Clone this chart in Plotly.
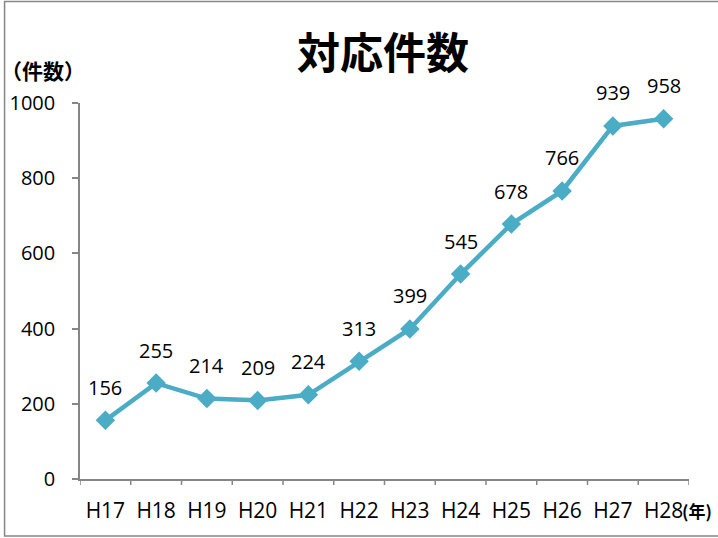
import plotly.graph_objects as go

years = ["H17", "H18", "H19", "H20", "H21", "H22", "H23", "H24", "H25", "H26", "H27", "H28"]
counts = [156, 255, 214, 209, 224, 313, 399, 545, 678, 766, 939, 958]
y_ticks = [0, 200, 400, 600, 800, 1000]

W, H = 718, 538
L, R, T, B = 80, 28.5, 103, 59
pw, ph = W - L - R, H - T - B

def px_x(x):
    return (x - L) / pw

def px_y(y):
    return (H - B - y) / ph

color = "#4BACC6"
fig = go.Figure()
fig.add_trace(go.Scatter(
    x=list(range(len(years))), y=counts, mode="lines+markers",
    line=dict(color=color, width=4.5),
    marker=dict(symbol="diamond", size=15, color=color),
    hoverinfo="skip", showlegend=False,
))

annotations = []
for i, v in enumerate(counts):
    annotations.append(dict(x=i, y=v, xref="x", yref="y", text=str(v), showarrow=False,
                            yshift=33, font=dict(size=20, color="#000000", family="Open Sans")))

annotations += [
    dict(x=px_x(383), y=px_y(50), xref="paper", yref="paper", text="<b>対応件数</b>", showarrow=False,
         font=dict(size=43, family="Noto Sans CJK JP", color="#000000"), xanchor="center", yanchor="middle"),
    dict(x=px_x(-1), y=px_y(70), xref="paper", yref="paper", text="<b>（件数）</b>", showarrow=False,
         font=dict(size=21, family="Noto Sans CJK JP", color="#000000"), xanchor="left", yanchor="middle"),
    dict(x=px_x(680), y=px_y(510), xref="paper", yref="paper", text="<b>(年)</b>", showarrow=False,
         font=dict(size=17, family="Noto Sans CJK JP", color="#000000"), xanchor="left", yanchor="middle"),
]

fig.update_layout(
    width=W, height=H,
    margin=dict(l=L, r=R, t=T, b=B, autoexpand=False),
    paper_bgcolor="white", plot_bgcolor="white",
    font=dict(family="Open Sans", size=20, color="#000000"),
    xaxis=dict(
        range=[-0.5, len(years) - 0.5], tickmode="array",
        tickvals=list(range(len(years))), ticktext=years,
        showgrid=False, zeroline=False, showline=True, linecolor="#868686", linewidth=1.5,
        ticks="", tickfont=dict(size=21, family="Open Sans"), ticklabelstandoff=12,
        fixedrange=True,
    ),
    yaxis=dict(
        range=[0, 1000], tickmode="array", tickvals=y_ticks,
        showgrid=False, zeroline=False, showline=True, linecolor="#868686", linewidth=1.5,
        ticks="outside", ticklen=6, tickcolor="#868686", tickwidth=1.5,
        tickfont=dict(size=20, family="Open Sans"), ticklabelstandoff=13,
        fixedrange=True,
    ),
    annotations=annotations,
    shapes=[
        dict(type="rect", xref="paper", yref="paper",
             x0=px_x(4.5), x1=px_x(740), y0=px_y(536), y1=px_y(1.5),
             line=dict(color="#868686", width=1.5), fillcolor="rgba(0,0,0,0)", layer="below"),
    ] + [
        dict(type="line", xref="x", yref="paper", x0=i - 0.5, x1=i - 0.5, y0=0, y1=-6 / ph,
             line=dict(color="#868686", width=1.5))
        for i in range(len(years) + 1)
    ],
)

fig.write_html("out.html", config={"displayModeBar": False},
               post_script="document.body.style.margin='0';document.body.style.overflow='hidden';")
